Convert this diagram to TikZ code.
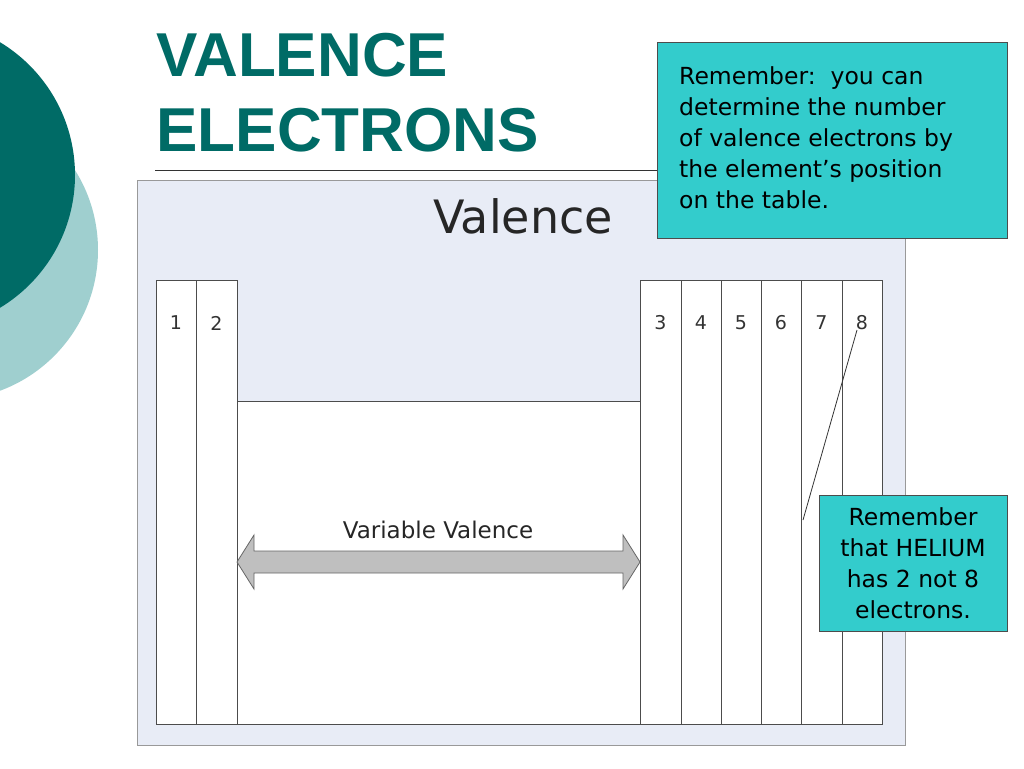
\documentclass[tikz,border=0pt]{standalone}
\usepackage{fontspec}
\setmainfont{DejaVu Sans}
\newfontfamily\titlefont{Liberation Sans}
\definecolor{teal1}{HTML}{006B66}
\definecolor{teal2}{HTML}{9FCFCF}
\definecolor{panel}{HTML}{E8ECF6}
\definecolor{callout}{HTML}{33CCCC}
\tikzset{col/.style={draw=black!70,fill=white,line width=0.8pt},
 num/.style={font=\fontsize{19}{19}\selectfont,text=black!80},
 note/.style={draw=black!70,fill=callout,line width=0.8pt}}
\begin{document}
\begin{tikzpicture}[x=1pt,y=-1pt]
\useasboundingbox (0,0) rectangle (1024,768);
\fill[white] (0,0) rectangle (1024,768);
\fill[teal2] (-52,250) circle (150);
\fill[teal1] (-80,175) circle (155);
\node[anchor=west,text=teal1,font=\titlefont\bfseries\fontsize{62}{62}\selectfont] (t1) at (153,55) {VALENCE};
\node[anchor=west,text=teal1,font=\titlefont\bfseries\fontsize{62}{62}\selectfont] (t2) at (153,130) {ELECTRONS};
\draw[black!80,line width=0.8pt] (155,170) -- (660,170);
\draw[fill=panel,draw=black!40,line width=0.8pt] (137,180) rectangle (905,745);
\node[font=\fontsize{46}{46}\selectfont,text=black!85] (val) at (523,216) {Valence};
\draw[col] (237,401) rectangle (640,724);
\foreach \a/\b/\n in {156/196/1,196/237/2,640/681/3,681/721/4,721/761/5,761/801/6,801/842/7,842/882/8}{
 \draw[col] (\a,280) rectangle (\b,724);
 \node[num] (n\n) at ({(\a+\b)/2},323) {\n};
}
\coordinate (L) at (237,562); \coordinate (R) at (640,562);
\draw[draw=black!60,fill=black!25,line width=0.8pt] (L) -- ++(17,-27) -- ++(0,16) -- (623,551) -- ++(0,-16) -- (R) -- ++(-17,27) -- ++(0,-16) -- (254,573) -- ++(0,16) -- cycle;
\node[font=\fontsize{23}{23}\selectfont,text=black!85] (vv) at (438,530) {Variable Valence};
\node[note,minimum width=350pt,minimum height=196pt,anchor=north west] (c1) at (657,42) {};
\node[anchor=north west,align=left,font=\fontsize{23.5}{31}\selectfont,inner sep=0pt] (c1t) at (679,66) {Remember:\ \ you can\\determine the number\\of valence electrons by\\the element’s position\\on the table.};
\coordinate (p8) at (857,330);
\coordinate (pe) at (803,520);
\draw[black!80,line width=0.8pt] (p8) -- (pe);
\node[note,minimum width=188pt,minimum height=136pt,anchor=north west] (c2) at (819,495) {};
\node[align=center,font=\fontsize{23.5}{31}\selectfont,inner sep=0pt] (c2t) at (913,563) {Remember\\that HELIUM\\has 2 not 8\\electrons.};
\end{tikzpicture}
\end{document}
